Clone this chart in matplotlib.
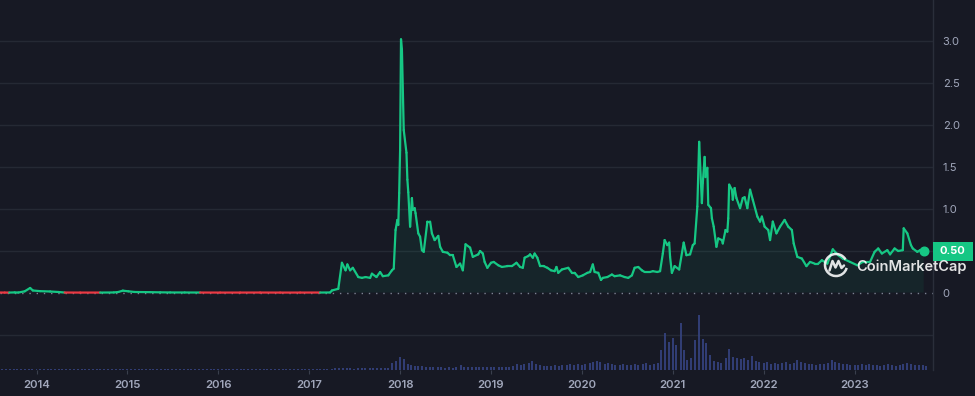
import numpy as np
import pandas as pd
import matplotlib
matplotlib.use("Agg")
import matplotlib.pyplot as plt
from matplotlib.collections import LineCollection
from matplotlib.patches import Rectangle, Arc
import matplotlib.transforms as mtransforms

plt.rcParams['font.family'] = ['Inter', 'DejaVu Sans']

# ---------------- price data (decimal year, price) ----------------
price_t = [
    2013.60, 2013.65, 2013.70, 2013.76, 2013.80, 2013.87, 2013.93, 2013.96, 2014.04, 2014.15,
    2014.24, 2014.31, 2014.48, 2014.70, 2014.85, 2014.90, 2014.95, 2015.01, 2015.08, 2015.25,
    2015.36, 2015.47, 2015.63, 2015.80, 2016.02, 2016.24, 2016.46, 2016.68, 2016.90, 2017.12,
    2017.23, 2017.25, 2017.32, 2017.36, 2017.40, 2017.42, 2017.45, 2017.48, 2017.54, 2017.58,
    2017.62, 2017.67, 2017.69, 2017.74, 2017.78, 2017.81, 2017.87, 2017.91, 2017.93, 2017.95,
    2017.97, 2017.98, 2017.99, 2018.00, 2018.01, 2018.02, 2018.04, 2018.07, 2018.08, 2018.09,
    2018.11, 2018.13, 2018.14, 2018.16, 2018.17, 2018.20, 2018.22, 2018.24, 2018.26, 2018.30,
    2018.33, 2018.35, 2018.38, 2018.42, 2018.44, 2018.47, 2018.52, 2018.55, 2018.58, 2018.62,
    2018.66, 2018.69, 2018.72, 2018.77, 2018.80, 2018.86, 2018.88, 2018.91, 2018.93, 2018.96,
    2019.00, 2019.03, 2019.08, 2019.12, 2019.18, 2019.23, 2019.28, 2019.32, 2019.35, 2019.37,
    2019.41, 2019.43, 2019.46, 2019.48, 2019.51, 2019.54, 2019.58, 2019.62, 2019.66, 2019.70,
    2019.72, 2019.74, 2019.78, 2019.85, 2019.89, 2019.92, 2019.96, 2020.01, 2020.06, 2020.09,
    2020.12, 2020.14, 2020.18, 2020.21, 2020.23, 2020.28, 2020.33, 2020.36, 2020.42, 2020.47,
    2020.51, 2020.55, 2020.58, 2020.62, 2020.66, 2020.69, 2020.75, 2020.78, 2020.83, 2020.86,
    2020.89, 2020.91, 2020.94, 2020.96, 2020.97, 2020.99, 2021.02, 2021.07, 2021.12, 2021.15,
    2021.19, 2021.22, 2021.24, 2021.27, 2021.29, 2021.31, 2021.32, 2021.33, 2021.35, 2021.36,
    2021.38, 2021.39, 2021.42, 2021.43, 2021.45, 2021.48, 2021.50, 2021.54, 2021.55, 2021.58,
    2021.60, 2021.61, 2021.62, 2021.65, 2021.66, 2021.68, 2021.70, 2021.74, 2021.77, 2021.79,
    2021.82, 2021.85, 2021.88, 2021.93, 2021.96, 2021.98, 2022.01, 2022.05, 2022.07, 2022.10,
    2022.14, 2022.18, 2022.23, 2022.27, 2022.31, 2022.33, 2022.37, 2022.42, 2022.47, 2022.51,
    2022.56, 2022.60, 2022.64, 2022.70, 2022.76, 2022.82, 2022.87, 2022.95, 2023.03, 2023.09,
    2023.17, 2023.22, 2023.26, 2023.30, 2023.36, 2023.39, 2023.44, 2023.48, 2023.53, 2023.54,
    2023.58, 2023.62, 2023.64, 2023.69, 2023.72, 2023.76,
]
price_v = [
    0.0058, 0.0050, 0.0052, 0.0070, 0.0055, 0.020, 0.060, 0.030, 0.022, 0.018,
    0.012, 0.0055, 0.0050, 0.0052, 0.0065, 0.012, 0.028, 0.020, 0.012, 0.010,
    0.008, 0.0065, 0.0062, 0.0055, 0.0050, 0.0052, 0.0055, 0.0050, 0.0052, 0.0055,
    0.0062, 0.030, 0.050, 0.36, 0.27, 0.34, 0.27, 0.30, 0.19, 0.18,
    0.19, 0.18, 0.23, 0.19, 0.25, 0.20, 0.21, 0.27, 0.29, 0.75,
    0.87, 0.81, 1.19, 1.70, 3.02, 2.90, 1.94, 1.67, 1.35, 1.20,
    0.79, 1.13, 0.99, 1.01, 0.95, 0.71, 0.67, 0.51, 0.49, 0.85,
    0.85, 0.71, 0.63, 0.68, 0.55, 0.49, 0.48, 0.45, 0.45, 0.31,
    0.35, 0.27, 0.58, 0.54, 0.43, 0.46, 0.50, 0.47, 0.37, 0.30,
    0.36, 0.37, 0.33, 0.31, 0.32, 0.32, 0.36, 0.31, 0.30, 0.42,
    0.44, 0.46, 0.42, 0.47, 0.42, 0.32, 0.32, 0.30, 0.27, 0.26,
    0.31, 0.24, 0.28, 0.30, 0.24, 0.24, 0.19, 0.21, 0.24, 0.25,
    0.34, 0.25, 0.24, 0.155, 0.18, 0.19, 0.22, 0.20, 0.21, 0.19,
    0.18, 0.21, 0.30, 0.31, 0.27, 0.25, 0.25, 0.26, 0.25, 0.26,
    0.47, 0.63, 0.57, 0.60, 0.43, 0.24, 0.32, 0.28, 0.60, 0.45,
    0.46, 0.57, 0.59, 1.03, 1.80, 1.31, 1.07, 1.31, 1.62, 1.38,
    1.49, 1.05, 1.01, 0.89, 0.79, 0.55, 0.65, 0.63, 0.59, 0.75,
    0.73, 0.89, 1.29, 1.23, 1.11, 1.25, 1.13, 1.01, 1.13, 1.14,
    1.01, 1.23, 1.11, 0.91, 0.85, 0.91, 0.79, 0.75, 0.63, 0.85,
    0.71, 0.79, 0.87, 0.79, 0.75, 0.59, 0.43, 0.41, 0.32, 0.37,
    0.35, 0.35, 0.39, 0.35, 0.52, 0.45, 0.41, 0.37, 0.33, 0.37,
    0.37, 0.49, 0.53, 0.47, 0.51, 0.46, 0.53, 0.50, 0.51, 0.77,
    0.71, 0.57, 0.53, 0.49, 0.51, 0.50,
]

# ---------------- volume (semi-monthly, relative units) ----------------
vol_2013 = [1.0, 1.0, 1.0, 1.0, 1.0, 1.0, 1.2, 1.2, 1.5, 1.4]
vol_2014 = [1.3, 1.2, 1.0, 1.0, 1.0, 1.0, 1.0, 1.0, 1.0, 1.0, 1.0, 1.0,
            1.0, 1.0, 1.0, 1.0, 1.0, 1.0, 1.0, 1.0, 1.0, 1.0, 1.2, 1.2]
vol_2015 = [1.2, 1.0, 1.0, 1.0, 1.0, 1.0, 1.0, 1.0, 1.0, 1.0, 1.0, 1.0,
            1.0, 1.0, 1.0, 1.0, 1.0, 1.0, 1.0, 1.0, 1.0, 1.0, 1.0, 1.0]
vol_2016 = [1.0, 1.0, 1.0, 1.0, 1.0, 1.0, 1.0, 1.0, 1.0, 1.0, 1.0, 1.0,
            1.0, 1.0, 1.0, 1.0, 1.0, 1.0, 1.0, 1.0, 1.0, 1.0, 1.0, 1.0]
vol_2017 = [1.0, 1.0, 1.0, 1.0, 1.0, 1.0, 1.5, 1.8, 2.2, 2.0, 1.8, 1.6,
            1.5, 1.8, 2.5, 2.2, 2.0, 2.0, 2.2, 1.8, 2.0, 2.5, 7.0, 9.0]
vol_2018 = [13, 11, 6, 5, 4, 4, 4.5, 3.5, 3.5, 3, 3, 3,
            2.5, 3, 2.5, 3, 5, 3.5, 3, 3, 3, 3.5, 3.5, 3]
vol_2019 = [3, 3.5, 3, 3, 3.5, 3, 4, 6, 5, 6, 7, 9,
            6, 5, 4, 4, 4, 5, 4, 5, 5, 6, 5, 6]
vol_2020 = [5, 6, 7, 8, 9, 8, 6, 7, 6, 5, 5, 6,
            5, 5, 6, 5, 6, 7, 5, 6, 7, 20, 37, 28]
vol_2021 = [32, 25, 47, 20, 10, 12, 30, 55, 31, 27, 15, 9,
            8, 7, 12, 21, 13, 12, 11, 12, 10, 14, 9, 8]
vol_2022 = [7, 8, 6, 7, 6, 7, 8, 6, 7, 10, 8, 7,
            6, 6, 5, 6, 6, 7, 10, 8, 7, 6, 6, 5]
vol_2023 = [5, 5, 6, 5, 6, 5, 5, 4, 5, 6, 5, 4, 5, 6, 7, 6, 5, 5, 5, 4]
volume = (vol_2013 + vol_2014 + vol_2015 + vol_2016 + vol_2017 + vol_2018
          + vol_2019 + vol_2020 + vol_2021 + vol_2022 + vol_2023)
vol_dates = pd.date_range("2013-08-01", periods=len(volume), freq="SMS")
vol_t = vol_dates.year + (vol_dates.dayofyear - 1) / 365.25

year_ticks = [2014, 2015, 2016, 2017, 2018, 2019, 2020, 2021, 2022, 2023]
price_ticks = [0, 0.5, 1.0, 1.5, 2.0, 2.5, 3.0]
# the 0.5 label sits under the current-price tag in the reference
price_tick_labels = ["0", "", "1.0", "1.5", "2.0", "2.5", "3.0"]

# ---------------- styling ----------------
BG = "#171924"
GRID = "#252934"
SEP = "#2a2e3a"
TXT = "#a1a7bb"
GREEN = "#16c784"
RED = "#ea3943"
VOLC = "#34427e"

W, H = 975, 396
fig = plt.figure(figsize=(W / 100, H / 100), dpi=100, facecolor=BG)
rect = [0, 26 / H, 933 / W, 370 / H]

axv = fig.add_axes(rect)
axv.set_facecolor(BG)
ax = fig.add_axes(rect, sharex=axv)
ax.set_facecolor("none")

x0 = 2014 - 36.5 / 90.9
x1 = 2014 + (933 - 36.5) / 90.9
ax.set_xlim(x0, x1)
ax.set_ylim((293 - 370) / 84, 293 / 84)

# volume panel
axv.set_ylim(0, 370)
axv.axhline(35, color=GRID, lw=1.0, zorder=0)
axv.bar(vol_t, volume, width=0.022, color=VOLC, alpha=0.9, linewidth=0, zorder=1)
axv.set_yticks([])
for s in axv.spines.values():
    s.set_visible(False)
axv.tick_params(axis="x", which="both", bottom=False, labelbottom=False)

# price grid
for yv in price_ticks[1:]:
    ax.axhline(yv, color=GRID, lw=1.0, zorder=0)

t = np.array(price_t)
v = np.array(price_v)
base = v[0]
ax.axhline(base, color="#7d8293", lw=1.0, ls=(0, (1, 4.2)), zorder=1)

ax.fill_between(t, v, base, where=v >= base, interpolate=True,
                color=GREEN, alpha=0.07, linewidth=0, zorder=1)

pts = np.column_stack([t, v])
segs = np.stack([pts[:-1], pts[1:]], axis=1)
cols = [GREEN if (a + b) / 2 >= base else RED for a, b in zip(v[:-1], v[1:])]
lc = LineCollection(segs, colors=cols, linewidths=1.6, capstyle="round",
                    joinstyle="round", zorder=3)
ax.add_collection(lc)
ax.plot(t[-1], v[-1], "o", ms=6.2, color=GREEN, zorder=4)

# axes styling
for k, s in ax.spines.items():
    s.set_visible(k == "right")
ax.spines["right"].set_color(SEP)
ax.spines["right"].set_linewidth(1.0)
ax.yaxis.tick_right()
ax.set_yticks(price_ticks)
ax.set_yticklabels(price_tick_labels)
ax.tick_params(axis="y", length=0, pad=7, labelsize=8, labelcolor=TXT)
ax.set_xticks(year_ticks)
ax.set_xticklabels([str(y) for y in year_ticks])
ax.tick_params(axis="x", length=3, width=0.8, color="#3a3f4d", pad=4,
               labelsize=8.2, labelcolor=TXT)
for lab in ax.get_xticklabels():
    lab.set_fontweight("semibold")

# price tag on the right axis
blend = mtransforms.blended_transform_factory(fig.transFigure, ax.transData)
tag_h = 19 / 84
ax.add_patch(Rectangle((933 / W, v[-1] - tag_h / 2), 40 / W, tag_h,
                       transform=blend, facecolor=GREEN, edgecolor="none",
                       clip_on=False, zorder=5))
ax.text(952.5 / W, v[-1], f"{v[-1]:.2f}", transform=blend, ha="center", va="center",
        color="white", fontsize=8, fontweight="bold", zorder=6, clip_on=False)

# watermark
ax.text(856 / W, 1 - 266.5 / H, "CoinMarketCap", transform=fig.transFigure,
        ha="left", va="center", color="white", alpha=0.88, fontsize=10.5,
        fontweight="semibold", zorder=7)
cx, cy = 836, H - 265
pix = mtransforms.IdentityTransform()
fig.patches.append(Arc((cx, cy), 22, 22, theta1=30, theta2=345, transform=pix,
                       color="white", alpha=0.88, lw=1.8))
zx = [cx - 6.5, cx - 3.5, cx - 0.5, cx + 2.5, cx + 5.5, cx + 8.0]
zy = [cy - 5.5, cy + 4.0, cy - 2.5, cy + 4.0, cy - 3.0, cy - 0.5]
fig.lines.append(matplotlib.lines.Line2D(zx, zy, transform=pix, color="white",
                                         alpha=0.88, lw=1.8, solid_joinstyle="round",
                                         solid_capstyle="round"))

fig.savefig("out.png", dpi=100, facecolor=BG)
